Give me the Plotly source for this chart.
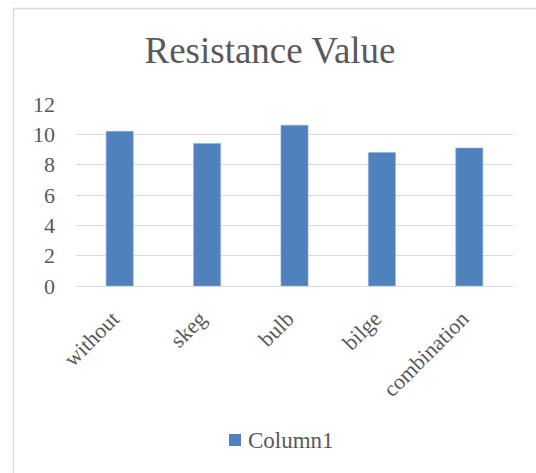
import plotly.graph_objects as go

categories = ["without", "skeg", "bulb", "bilge", "combination"]
resistance = [10.2, 9.4, 10.6, 8.8, 9.1]
series_name = "Column1"
y_ticks = [0, 2, 4, 6, 8, 10, 12]

W, H = 536, 473
ML, MR, MT, MB = 76, 23, 104, 187
TEXT = "#595959"
GRID = "#d9d9d9"
BAR = "#4f81bd"
FONT = "Liberation Serif, Times New Roman, serif"

fig = go.Figure(
    go.Bar(
        x=categories,
        y=resistance,
        name=series_name,
        marker=dict(color=BAR, line=dict(color="#8fb0dc", width=0.6)),
        width=0.31,
        showlegend=False,
    )
)

# pixel -> paper helpers for the frame and the legend key
pw = W - ML - MR
ph = H - MT - MB
def px_x(x):
    return (x - ML) / pw
def px_y(y):
    return (H - MB - y) / ph

# chart-area frame (left and top edges visible; continues past the page)
fig.add_shape(type="rect", xref="paper", yref="paper",
              x0=px_x(13.5), x1=px_x(560), y0=px_y(8.5), y1=px_y(500),
              line=dict(color=GRID, width=1.3), fillcolor="rgba(0,0,0,0)", layer="below")

# legend key: swatch + series name
fig.add_shape(type="rect", xref="paper", yref="paper",
              x0=px_x(229), x1=px_x(241), y0=px_y(446), y1=px_y(434),
              line=dict(width=0), fillcolor=BAR)
fig.add_annotation(text=series_name, xref="paper", yref="paper",
                   x=px_x(246), y=px_y(440), xanchor="left", yanchor="middle",
                   showarrow=False, font=dict(size=23, color=TEXT, family=FONT))

fig.update_layout(
    width=W, height=H,
    margin=dict(l=ML, r=MR, t=MT, b=MB),
    paper_bgcolor="white", plot_bgcolor="white",
    font=dict(family=FONT, color=TEXT, size=22),
    title=dict(text="Resistance Value", x=270 / W, xref="container", xanchor="center",
               y=1 - 50 / H, yref="container", yanchor="middle",
               font=dict(family=FONT, size=37, color=TEXT)),
    xaxis=dict(tickangle=-45, showgrid=False, showline=True, linecolor=GRID, linewidth=1.3,
               ticks="", tickfont=dict(size=22, color=TEXT), fixedrange=True,
               ticklabelshift=-7, ticklabelstandoff=10),
    yaxis=dict(range=[0, 12], tickvals=y_ticks, showgrid=True, gridcolor=GRID, gridwidth=1.3,
               zeroline=False, showline=False, ticks="", tickfont=dict(size=22, color=TEXT),
               ticklabelstandoff=20),
    showlegend=False,
)

fig.write_html("out.html")
